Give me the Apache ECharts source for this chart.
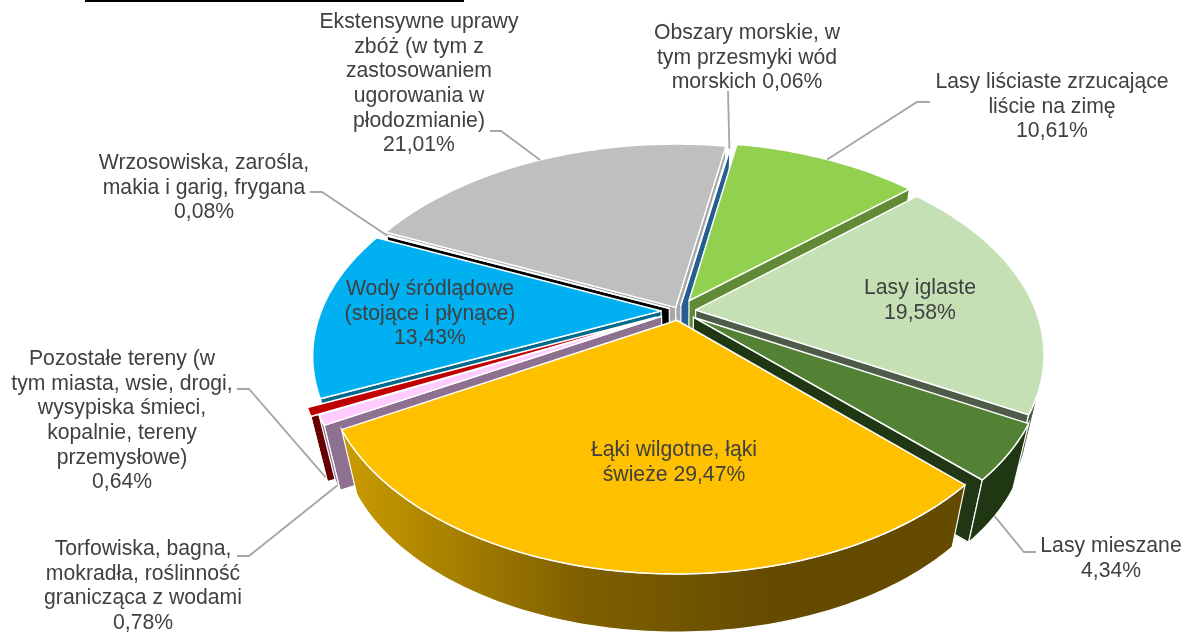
<!DOCTYPE html>
<html>
<head>
<meta charset="utf-8">
<style>html,body{margin:0;padding:0;background:#fff}#c{width:1186px;height:637px}</style>
<script src="https://cdn.jsdelivr.net/npm/echarts@6/dist/echarts.min.js"></script>
</head>
<body>
<div id="c"></div>
<script>
// ---- data, clockwise from the pie's first-slice angle ----
const categories = [
  'Obszary morskie, w\ntym przesmyki wód\nmorskich',
  'Lasy liściaste zrzucające\nliście na zimę',
  'Lasy iglaste',
  'Lasy mieszane',
  'Łąki wilgotne, łąki\nświeże',
  'Torfowiska, bagna,\nmokradła, roślinność\ngranicząca z wodami',
  'Pozostałe tereny (w\ntym miasta, wsie, drogi,\nwysypiska śmieci,\nkopalnie, tereny\nprzemysłowe)',
  'Wody śródlądowe\n(stojące i płynące)',
  'Wrzosowiska, zarośla,\nmakia i garig, frygana',
  'Ekstensywne uprawy\nzbóż (w tym z\nzastosowaniem\nugorowania w\npłodozmianie)'
];
const values = [0.06, 10.61, 19.58, 4.34, 29.47, 0.78, 0.64, 13.43, 0.08, 21.01];
const valueSeparators = [' ', '\n', '\n', '\n', ' ', '\n', '\n', '\n', '\n', '\n'];

// ---- styles ----
const topColors = ['#255E91','#92D050','#C5E0B4','#548235','#FFC000','#FFCCFF','#C00000','#00B0F0','#000000','#BFBFBF'];
const wallColors = ['#255E91','#618A35','#4F5B49','#203713','#654B00','#8E7190','#660000','#006A8C','#000000','#A8A8A8'];
const explodeBy = [0.03, 0.058, 0.047, 0.05, 0.045, 0.055, 0.07, 0.05, 0.03, 0.02];
const radiusBy  = [0.945, 0.955, 0.953, 0.952, 0.955, 0.96, 0.965, 0.952, 0.945, 0.975];
const paintOrder = [9, 0, 1, 8, 2, 7, 6, 5, 3, 4];

// ---- 3D pie projection ----
const view = {cx:679, cy:311, A:357, B:205, p:0.2207, shrink:0.955, drop:70, firstAngle:10};
const rad = d => d*Math.PI/180;
const total = values.reduce((a,b)=>a+b,0);
const proj = (u,v) => { const w = 1+view.p*v; return [view.cx+view.A*u/w, view.cy-view.B*v/w]; };
const lower = pt => [view.cx+(pt[0]-view.cx)*view.shrink, view.cy+(pt[1]-view.cy)*view.shrink+view.drop];
const area = pts => { let s=0; pts.forEach((a,i)=>{const b=pts[(i+1)%pts.length]; s+=a[0]*b[1]-b[0]*a[1];}); return s; };

let acc = 0;
const slices = values.map((val,i) => {
  const a0 = view.firstAngle+acc/total*360; acc += val;
  const a1 = view.firstAngle+acc/total*360;
  const mid = (a0+a1)/2;
  const ex = explodeBy[i]*Math.sin(rad(mid)), ey = explodeBy[i]*Math.cos(rad(mid));
  const at = a => proj(ex+radiusBy[i]*Math.sin(rad(a)), ey+radiusBy[i]*Math.cos(rad(a)));
  const n = Math.max(1, Math.ceil((a1-a0)));
  const arc = [];
  for (let k=0;k<=n;k++) arc.push(at(a0+(a1-a0)*k/n));
  return {a0,a1,mid,apex:proj(ex,ey),arc,at};
});

const wallGradient = new echarts.graphic.LinearGradient(345,0,770,0,[
  {offset:0,color:'#C99B00'},{offset:0.55,color:'#7F6000'},{offset:1,color:'#654B00'}],true);

function sliceElements(i, rank){
  const s = slices[i], kids = [];
  const wallStyle = {fill: wallColors[i], stroke:'#fff', lineWidth:1.2};
  const quad = (a,b) => [a,b,lower(b),lower(a)];
  const addWall = (pts,style) => kids.push({type:'polygon',z2:rank*3,shape:{points:pts},style});
  const q0 = quad(s.apex,s.arc[0]);
  if (area(q0)<0) addWall(q0,wallStyle);
  const last = s.arc[s.arc.length-1];
  const q1 = quad(last,s.apex);
  if (area(q1)<0) addWall(q1,wallStyle);
  // outer wall: every run of arc segments that faces the viewer
  let run = [];
  const flush = () => {
    if (run.length>1) addWall(run.concat(run.slice().reverse().map(lower)),
      i===4 ? {fill:wallGradient,stroke:'#fff',lineWidth:1.2} : wallStyle);
    run = [];
  };
  for (let k=0;k<s.arc.length-1;k++){
    if (area(quad(s.arc[k],s.arc[k+1]))<0){
      if (!run.length) run.push(s.arc[k]);
      run.push(s.arc[k+1]);
    } else flush();
  }
  flush();
  kids.push({type:'polygon',z2:rank*3+1,shape:{points:[s.apex].concat(s.arc)},
    style:{fill:topColors[i],stroke:'#fff',lineWidth:1.5,lineJoin:'round'}});
  return {type:'group',children:kids};
}

// ---- labels: [centre x, top y] for each slice; leader stub and elbow; whether it lands on the lower rim ----
const labelBoxes = [[747,21],[1052,70],[920,276],[1111,534],[674,438],[143,537],[122,347],[430,277],[204,151],[419,10]];
const leaders = [
  {from:[728,91]},
  {from:[930,102],elbow:[917,102]},
  null,
  {from:[1036,552],elbow:[1024,552],low:true},
  null,
  {from:[237,556],elbow:[249,556],low:true},
  {from:[237,389],elbow:[249,389],low:true},
  null,
  {from:[310,192],elbow:[322,192]},
  {from:[490,131],elbow:[501,131]}
];
const fmt = v => v.toFixed(2).replace('.',',')+'%';
const graphics = [];
graphics.push({type:'rect',shape:{x:85,y:0,width:379,height:2},style:{fill:'#000'},silent:true});
leaders.forEach((l,i)=>{
  if(!l) return;
  let end = slices[i].at(slices[i].mid);
  if (l.low) end = lower(end);
  const pts = [l.from]; if (l.elbow) pts.push(l.elbow); pts.push(end);
  graphics.push({type:'polyline',z:5,shape:{points:pts},style:{stroke:'#A6A6A6',lineWidth:1.8,fill:null}});
});
categories.forEach((c,i)=>{
  graphics.push({type:'text',z:6,x:labelBoxes[i][0],y:labelBoxes[i][1],
    style:{text:c+valueSeparators[i]+fmt(values[i]),fill:'#404040',
      font:'21.2px "Liberation Sans", Arial, sans-serif',lineHeight:24.6,align:'center',verticalAlign:'top'}});
});

const chart = echarts.init(document.getElementById('c'),null,{renderer:'canvas'});
chart.setOption({
  animation:false,
  backgroundColor:'#fff',
  graphic:{elements:graphics},
  series:[{
    type:'custom',
    coordinateSystem:'none',
    silent:true,
    data:values.map((v,i)=>({name:categories[i],value:[i,v]})),
    renderItem:(params,api)=>{
      const i = api.value(0);
      return sliceElements(i, paintOrder.indexOf(i)+1);
    }
  }]
});
</script>
</body>
</html>
